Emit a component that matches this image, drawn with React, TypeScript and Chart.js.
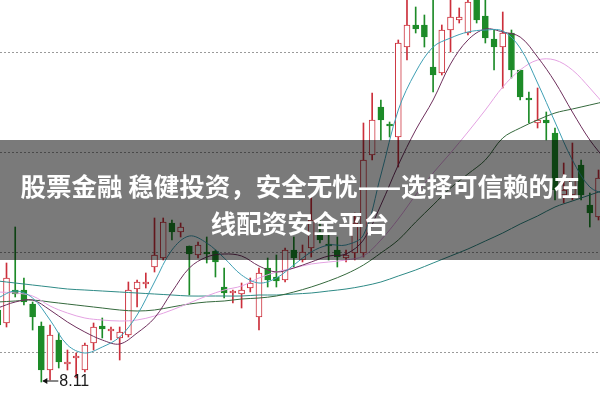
import React, { useEffect, useRef } from "react";
import { Chart, registerables } from "chart.js";

Chart.register(...registerables);

// Candles (index 0 is the partly cut candle at the left edge)
const opens = [8.83, 8.70, 9.03, 9.03, 8.89, 8.67, 8.23, 8.53, 8.29, 8.35,
  8.23, 8.50, 8.67, 8.62, 8.55, 8.58, 9.04, 9.09, 9.26, 9.35,
  9.70, 9.61, 9.47, 9.38, 9.41, 9.42, 9.06, 9.00, 8.99, 9.05,
  8.76, 9.25, 9.16, 9.13, 9.43, 9.33, 9.45, 9.61, 9.49, 9.43,
  9.35, 9.40, 9.40, 10.38, 10.86, 10.69, 10.56, 11.46, 11.68, 11.68,
  11.26, 11.20, 11.63, 11.73, 11.60, 11.98, 11.77, 11.54, 11.46, 11.60,
  11.23, 10.95, 10.70, 10.73, 10.60, 9.98, 9.98, 10.28, 9.88, 9.76];
const closes = [8.68, 9.15, 8.99, 8.91, 8.76, 8.23, 8.58, 8.31, 8.31, 8.37,
  8.48, 8.66, 8.64, 8.64, 8.61, 9.03, 9.11, 9.11, 9.38, 9.71,
  9.61, 9.66, 9.39, 9.48, 9.39, 9.31, 9.00, 9.02, 9.03, 9.10,
  9.20, 9.13, 9.12, 9.43, 9.35, 9.41, 9.73, 9.53, 9.47, 9.36,
  9.38, 9.70, 10.33, 10.73, 10.73, 10.67, 11.50, 11.68, 11.64, 11.56,
  11.18, 11.63, 11.76, 11.76, 11.91, 11.73, 11.55, 11.46, 11.60, 11.23,
  10.96, 10.93, 10.73, 10.70, 10.03, 10.03, 10.13, 9.98, 9.80, 10.15];
const highs = [8.88, 9.30, 9.66, 9.15, 8.91, 8.71, 8.68, 8.60, 8.43, 8.40,
  8.50, 8.70, 8.75, 8.66, 8.66, 9.11, 9.13, 9.20, 9.75, 9.75,
  9.73, 9.70, 9.47, 9.51, 9.56, 9.43, 9.25, 9.03, 9.10, 9.15,
  9.25, 9.35, 9.38, 9.45, 9.56, 9.48, 9.96, 9.73, 9.60, 9.56,
  9.43, 9.80, 10.70, 11.00, 10.93, 10.71, 11.53, 11.98, 11.86, 11.78,
  11.98, 11.68, 11.98, 11.85, 11.98, 12.00, 11.98, 11.63, 11.81, 11.63,
  11.23, 11.01, 11.05, 10.81, 10.65, 10.30, 10.50, 10.33, 10.00, 10.23];
const lows = [8.63, 8.66, 8.96, 8.88, 8.63, 8.11, 8.13, 8.25, 8.23, 8.15,
  8.21, 8.43, 8.55, 8.53, 8.33, 8.56, 8.86, 9.05, 9.21, 9.33,
  9.53, 9.56, 8.98, 9.35, 9.30, 9.16, 8.95, 8.90, 8.85, 9.01,
  8.63, 9.06, 9.06, 9.11, 9.26, 9.31, 9.36, 9.50, 9.33, 9.26,
  9.31, 9.33, 9.36, 10.33, 10.53, 10.56, 10.26, 11.33, 11.60, 11.46,
  11.01, 11.18, 11.41, 11.70, 11.58, 11.70, 11.50, 11.23, 11.05, 11.15,
  10.93, 10.70, 10.65, 10.53, 9.93, 9.90, 9.93, 9.93, 9.66, 9.73];

// Moving-average lines, read every 2nd candle (indices 0, 2, 4, ... 70)
const maStep = 2;
const ma5 = [8.95, 9.02, 8.95, 8.73, 8.48, 8.40, 8.46, 8.56, 8.78, 9.11,
  9.43, 9.57, 9.50, 9.35, 9.18, 9.10, 9.15, 9.28, 9.41, 9.48,
  9.48, 9.58, 10.18, 10.83, 11.21, 11.46, 11.55, 11.61, 11.63, 11.62,
  11.45, 11.10, 10.71, 10.33, 10.06, 9.98];
const ma10 = [8.85, 8.91, 8.93, 8.83, 8.71, 8.61, 8.53, 8.49, 8.60, 8.75,
  9.01, 9.25, 9.36, 9.39, 9.37, 9.27, 9.21, 9.25, 9.31, 9.37,
  9.39, 9.53, 9.88, 10.28, 10.63, 10.93, 11.29, 11.53, 11.64, 11.61,
  11.56, 11.36, 11.11, 10.81, 10.53, 10.31];
const ma20 = [9.01, 9.00, 8.97, 8.87, 8.80, 8.75, 8.73, 8.72, 8.73, 8.77,
  8.83, 8.90, 8.97, 9.03, 9.07, 9.15, 9.21, 9.25, 9.29, 9.31,
  9.33, 9.37, 9.53, 9.74, 9.98, 10.20, 10.40, 10.61, 10.83, 11.06,
  11.23, 11.33, 11.33, 11.23, 11.05, 10.85];
const ma60 = [8.91, 8.92, 8.93, 8.91, 8.89, 8.87, 8.85, 8.83, 8.82, 8.83,
  8.86, 8.89, 8.91, 8.92, 8.94, 8.95, 8.97, 9.01, 9.06, 9.12,
  9.19, 9.28, 9.40, 9.53, 9.71, 9.88, 10.05, 10.19, 10.33, 10.55,
  10.65, 10.73, 10.80, 10.84, 10.88, 10.92];
const ma120 = [9.12, 9.10, 9.08, 9.06, 9.04, 9.03, 9.02, 9.01, 9.00, 8.99,
  8.98, 8.97, 8.97, 8.97, 8.97, 8.98, 8.98, 8.99, 9.00, 9.02,
  9.04, 9.07, 9.11, 9.17, 9.23, 9.30, 9.37, 9.44, 9.52, 9.60,
  9.69, 9.77, 9.86, 9.92, 9.98, 10.04];

const gridValues = [8.4, 9.4, 10.4, 11.4];
const lowIndex = 5;
const lowLabel = "8.11";
const titleLine1 = "股票金融 稳健投资，安全无忧——选择可信赖的在";
const titleLine2 = "线配资安全平台";

const RED = "#cc2f3b";
const GREEN = "#1d8b28";

export default function App() {
  const canvasRef = useRef<HTMLCanvasElement>(null);
  const labelRef = useRef<HTMLDivElement>(null);

  useEffect(() => {
    document.body.style.margin = "0";
    const canvas = canvasRef.current;
    if (!canvas) return;
    const isUp = (i: number) => closes[i] >= opens[i];
    const colors = opens.map((_, i) => (isUp(i) ? RED : GREEN));
    const fills = opens.map((_, i) => (isUp(i) ? "#ffffff" : GREEN));

    const lineDs = (data: number[], color: string) => ({
      type: "line" as const,
      data: data.map((v, k) => ({ x: k * maStep, y: v })),
      borderColor: color,
      borderWidth: 1,
      pointRadius: 0,
      tension: 0.35,
      fill: false,
      order: 0,
    });

    const lowPlugin = {
      id: "lowMark",
      afterDraw(chart: any) {
        const { ctx, scales } = chart;
        const px = scales.x.getPixelForValue(lowIndex);
        const py = Math.round(scales.y.getPixelForValue(lows[lowIndex])) - 1.5;
        ctx.save();
        ctx.strokeStyle = "#111";
        ctx.fillStyle = "#111";
        ctx.lineWidth = 1;
        ctx.beginPath();
        ctx.moveTo(px + 2, py + 0.5);
        ctx.lineTo(px + 17, py + 0.5);
        ctx.stroke();
        ctx.beginPath();
        ctx.moveTo(px + 1, py + 0.5);
        ctx.lineTo(px + 6, py - 2.5);
        ctx.lineTo(px + 6, py + 3.5);
        ctx.closePath();
        ctx.fill();
        ctx.restore();
        if (labelRef.current) {
          labelRef.current.style.left = `${px + 18}px`;
          labelRef.current.style.top = `${py - 10}px`;
        }
      },
    };

    const chart = new Chart(canvas, {
      type: "bar",
      data: {
        datasets: [
          lineDs(ma5, "#3f9fb4"),
          lineDs(ma10, "#6e2f5c"),
          lineDs(ma20, "#e4a2e2"),
          lineDs(ma60, "#35693d"),
          lineDs(ma120, "#2e8a86"),
          {
            type: "bar",
            data: opens.map((o, i) => ({ x: i, y: [o, closes[i]] })),
            backgroundColor: fills,
            borderColor: colors,
            borderWidth: 1,
            borderSkipped: false,
            barThickness: 6,
            grouped: false,
            order: 1,
          } as any,
          {
            type: "bar",
            data: lows.map((l, i) => ({ x: i, y: [l, highs[i]] })),
            backgroundColor: colors,
            borderWidth: 0,
            barThickness: 1,
            grouped: false,
            order: 2,
          } as any,
        ],
      },
      options: {
        animation: false,
        responsive: false,
        maintainAspectRatio: false,
        layout: { padding: 0 },
        plugins: { legend: { display: false }, tooltip: { enabled: false } },
        scales: {
          x: {
            type: "linear",
            min: 0.253,
            max: 69.17,
            offset: false,
            display: false,
          },
          y: {
            min: 7.93,
            max: 11.93,
            afterBuildTicks: (s: any) => {
              s.ticks = gridValues.map((v) => ({ value: v }));
            },
            afterFit: (s: any) => {
              s.width = 0;
            },
            ticks: { display: false },
            grid: { color: "#9a9a9a", drawTicks: false, lineWidth: 1 },
            border: { display: false, dash: [2, 2] },
          },
        },
      } as any,
      plugins: [lowPlugin],
    });
    return () => chart.destroy();
  }, []);

  return (
    <div style={{ position: "relative", width: 600, height: 400, background: "#fff", overflow: "hidden" }}>
      <canvas ref={canvasRef} width={600} height={400} style={{ display: "block", width: 600, height: 400 }} />
      <div
        ref={labelRef}
        style={{
          position: "absolute",
          left: 60,
          top: 370,
          fontFamily: "'Liberation Sans', Arial, sans-serif",
          fontSize: 16,
          lineHeight: "19px",
          color: "#1a1a1a",
        }}
      >
        {lowLabel}
      </div>
      <div
        style={{
          position: "absolute",
          left: 0,
          top: 140,
          width: 600,
          height: 120,
          background: "rgba(0,0,0,0.52)",
          color: "#ffffff",
          fontFamily: "'Noto Sans CJK SC', sans-serif",
          fontWeight: 700,
          fontSize: 25.5,
          lineHeight: "37px",
          textAlign: "center",
          paddingTop: 26,
          boxSizing: "border-box",
          whiteSpace: "nowrap",
        }}
      >
        <div>{titleLine1}</div>
        <div>{titleLine2}</div>
      </div>
    </div>
  );
}
